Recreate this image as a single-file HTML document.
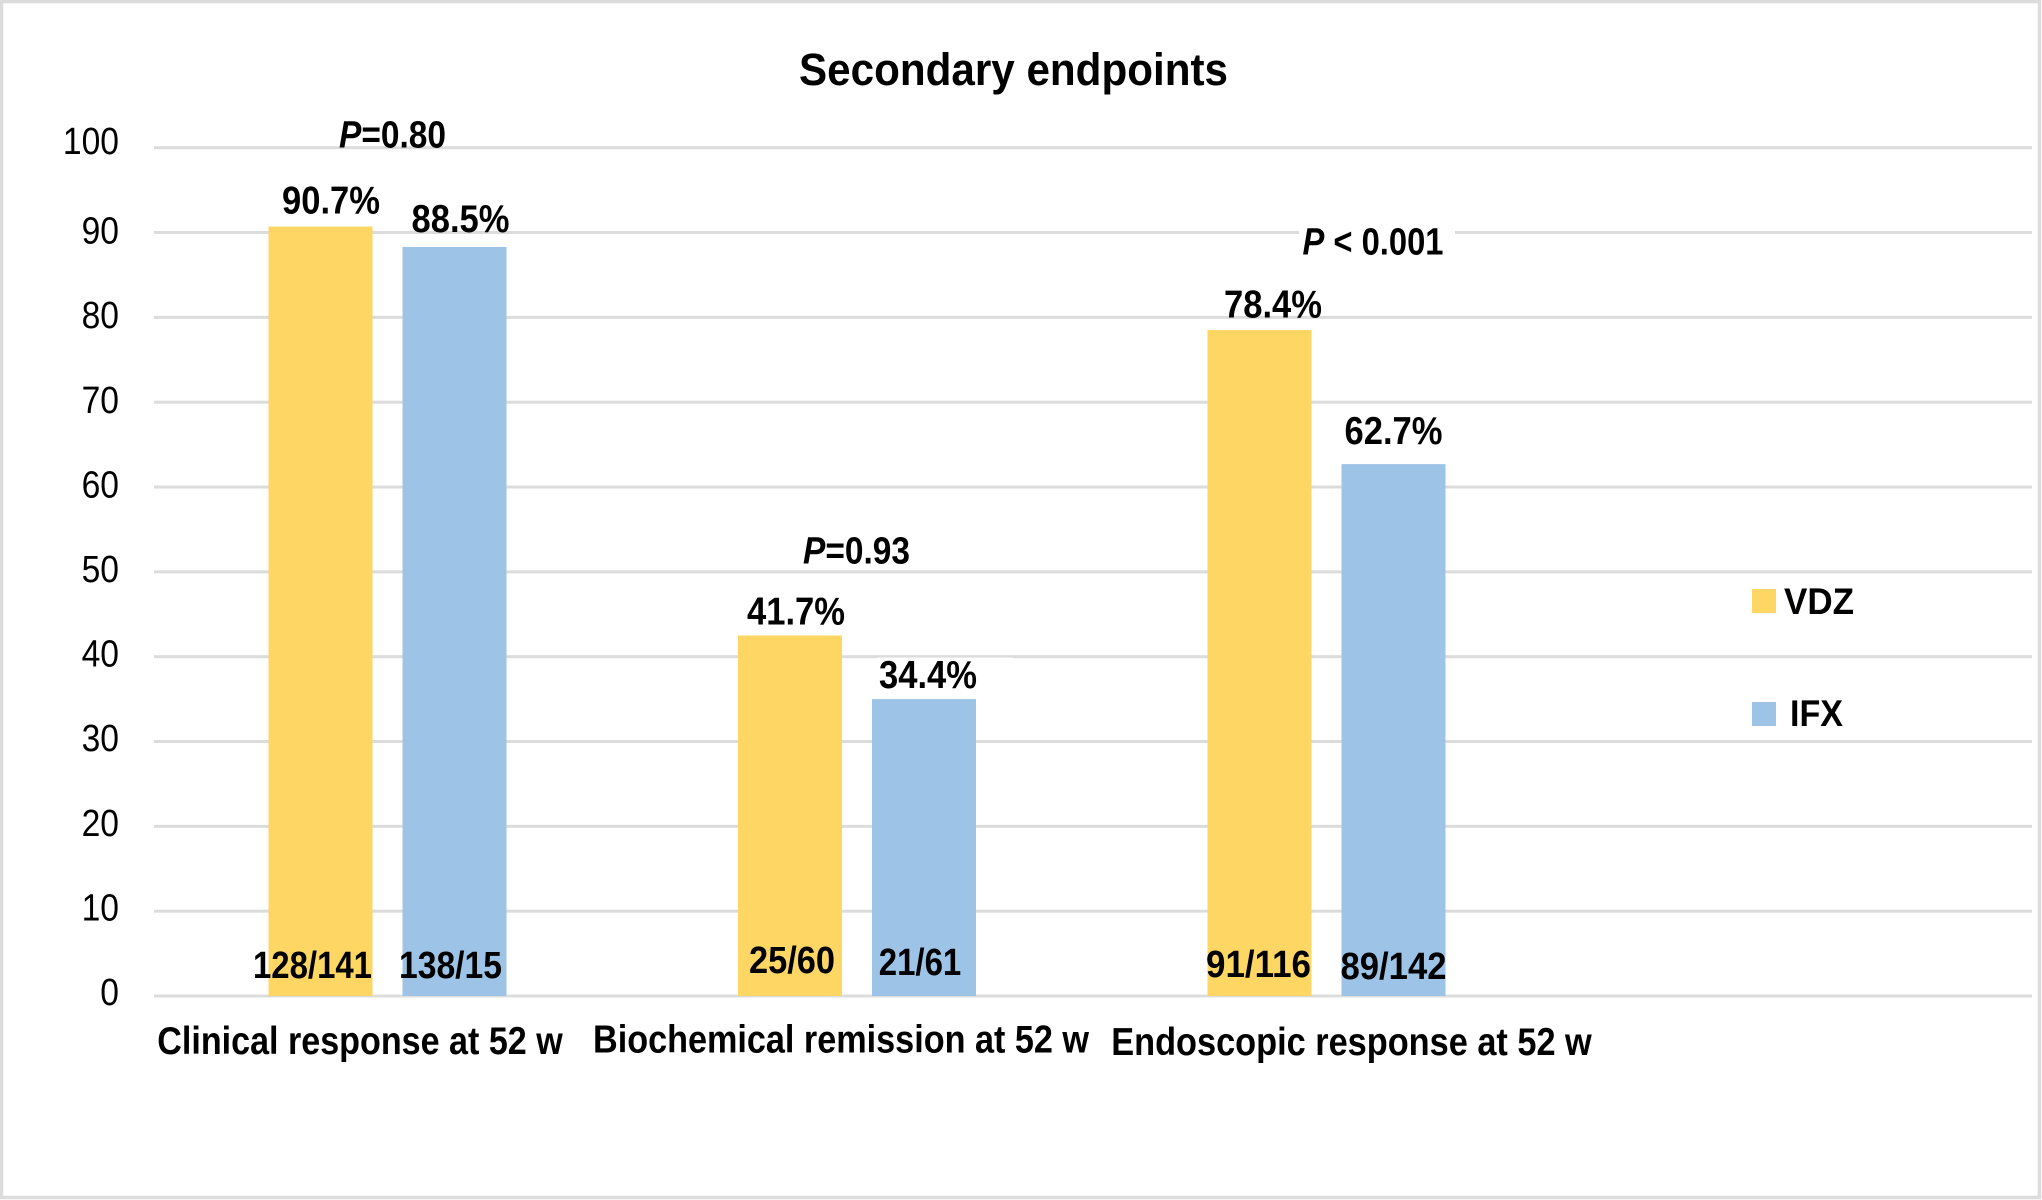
<!DOCTYPE html>
<html lang="en">
<head>
<meta charset="utf-8">
<title>Secondary endpoints</title>
<style>
  html, body { margin: 0; padding: 0; background: #fff; }
  svg { display: block; }
  text { font-family: "Liberation Sans", Arial, sans-serif; fill: #000; }
</style>
</head>
<body>
<svg id="chart" xmlns="http://www.w3.org/2000/svg" width="2042" height="1200" viewBox="0 0 2042 1200">
  <rect x="0" y="0" width="2042" height="1200" fill="#ffffff"/>
  <rect x="1.5" y="1.5" width="2038" height="1196" fill="none" stroke="#dcdcdc" stroke-width="3.5"/>
  <text x="799" y="85" font-size="45" font-weight="700" textLength="429" lengthAdjust="spacingAndGlyphs">Secondary endpoints</text>
  <g id="grid"></g>
  <g id="ticks"></g>
  <g id="bars"></g>
  <g id="labels"></g>
  <g>
    <g>
      <rect x="1752" y="589" width="24" height="24" fill="#fed664"/>
      <text x="1784" y="614" font-size="37" font-weight="700" textLength="70" lengthAdjust="spacingAndGlyphs">VDZ</text>
    </g>
    <g>
      <rect x="1752" y="702" width="24" height="24" fill="#9dc3e6"/>
      <text x="1790" y="726" font-size="37" font-weight="700" textLength="53" lengthAdjust="spacingAndGlyphs">IFX</text>
    </g>
  </g>
</svg>
<script>
// ---- chart data ----
const categories = ['Clinical response at 52 w', 'Biochemical remission at 52 w', 'Endoscopic response at 52 w'];
const vdzValues = [90.7, 42.5, 78.5];
const ifxValues = [88.3, 35.0, 62.7];
const vdzPercents = ['90.7%', '41.7%', '78.4%'];
const ifxPercents = ['88.5%', '34.4%', '62.7%'];
const vdzCounts = ['128/141', '25/60', '91/116'];
const ifxCounts = ['138/15', '21/61', '89/142'];
const pValues = ['=0.80', '=0.93', '< 0.001'];
const tickValues = [0, 10, 20, 30, 40, 50, 60, 70, 80, 90, 100];
const tickLabels = ['0', '10', '20', '30', '40', '50', '60', '70', '80', '90', '100'];

// ---- axis functions ----
const yScale = function (v) { return 996 - 8.483 * v; };
const tickBaseline = function (v) { return 1005 - 8.46 * v - (v === 100 ? 5 : 0); };
const groupCenter = function (i) { return 387.5 + 469.5 * i; };
const barCenter = function (i, s) { return groupCenter(i) + (s === 0 ? -67 : 67); };
const BAR_WIDTH = 104;

// ---- hand-placed label layout (offsets from the marks, not data) ----
const vdzLabelDx = [10.5, 6, 13.5];
const vdzLabelGap = [13.3, 11, 12.7];
const ifxLabelDx = [6, 4, 0];
const ifxLabelGap = [15, 11, 20];
const vdzCountDx = [-8, 2, -1];
const ifxCountDx = [-4, -4, 0];
const vdzCountBase = [978, 973, 977];
const ifxCountBase = [978, 975, 979];
const vdzCountWidth = [119, 86, 105];
const ifxCountWidth = [103, 82.5, 106];
const categoryCenterDx = [-27.5, -16, 25];
const categoryBase = [1054, 1052.7, 1055];
const categoryWidth = [405.5, 496, 480.5];
const pDx = [5, -0.5, 46.5];
const pGap = [79.3, 72, 75.7];
const pWidth = [107, 107, 141];

const SVG_NS = 'http://www.w3.org/2000/svg';
const grid = document.getElementById('grid');
const ticks = document.getElementById('ticks');
const bars = document.getElementById('bars');
const labels = document.getElementById('labels');

function make(tag, parent, props) {
  const el = document.createElementNS(SVG_NS, tag);
  Object.keys(props).forEach(function (k) { el.setAttribute(k, props[k]); });
  parent.appendChild(el);
  return el;
}

function label(parent, str, cx, base, width, size, weight) {
  const el = make('text', parent, {
    x: cx - width / 2, y: base, 'font-size': size, 'font-weight': weight,
    textLength: width, lengthAdjust: 'spacingAndGlyphs'
  });
  el.textContent = str;
  return el;
}

tickValues.forEach(function (v, i) {
  const line = make('rect', grid, { x: 154, y: yScale(v) - 1.5, width: 1878, height: 3, fill: '#dcdcdc' });
  
  
  const width = tickLabels[i].length * 18.7;
  const tick = label(ticks, tickLabels[i], 119 - width / 2, tickBaseline(v), width, 38, 400);
  
  
});

categories.forEach(function (name, i) {
  const vx = barCenter(i, 0);
  const ix = barCenter(i, 1);

  const vBar = make('rect', bars, { x: vx - BAR_WIDTH / 2, y: yScale(vdzValues[i]), width: BAR_WIDTH, height: yScale(0) - yScale(vdzValues[i]), fill: '#fed664' });
  
  

  const iBar = make('rect', bars, { x: ix - BAR_WIDTH / 2, y: yScale(ifxValues[i]), width: BAR_WIDTH, height: yScale(0) - yScale(ifxValues[i]), fill: '#9dc3e6' });
  
  

  const topY = Math.min(yScale(vdzValues[i]), yScale(ifxValues[i]));
  const pCx = groupCenter(i) + pDx[i];
  const pBase = topY - pGap[i];

  // the original figure has white patches behind two annotations
  if (i === 2) {
    const pMask = make('rect', labels, { x: pCx - 74, y: pBase - 29, width: 156, height: 36, fill: '#ffffff' });
    
    
  }
  if (i === 1) {
    const ifxMask = make('rect', labels, { x: ix - 46.5, y: yScale(ifxValues[i]) - 41.5, width: 135.5, height: 38, fill: '#ffffff' });
    
    
  }

  const vPct = label(labels, vdzPercents[i], vx + vdzLabelDx[i], yScale(vdzValues[i]) - vdzLabelGap[i], 98, 39, 700);
  
  

  const iPct = label(labels, ifxPercents[i], ix + ifxLabelDx[i], yScale(ifxValues[i]) - ifxLabelGap[i], 98, 39, 700);
  
  

  const vCount = label(labels, vdzCounts[i], vx + vdzCountDx[i], vdzCountBase[i], vdzCountWidth[i], 38, 700);
  
  

  const iCount = label(labels, ifxCounts[i], ix + ifxCountDx[i], ifxCountBase[i], ifxCountWidth[i], 38, 700);
  
  

  const cat = label(labels, name, groupCenter(i) + categoryCenterDx[i], categoryBase[i], categoryWidth[i], 39, 700);
  
  

  const pText = label(labels, '', pCx, pBase, pWidth[i], 38, 700);
  
  
  const pItalic = make('tspan', pText, { 'font-style': 'italic' });
  pItalic.textContent = 'P';
  const pRest = make('tspan', pText, {});
  pRest.textContent = (pValues[i].charAt(0) === '<' ? ' ' : '') + pValues[i];
});
</script>
</body>
</html>
